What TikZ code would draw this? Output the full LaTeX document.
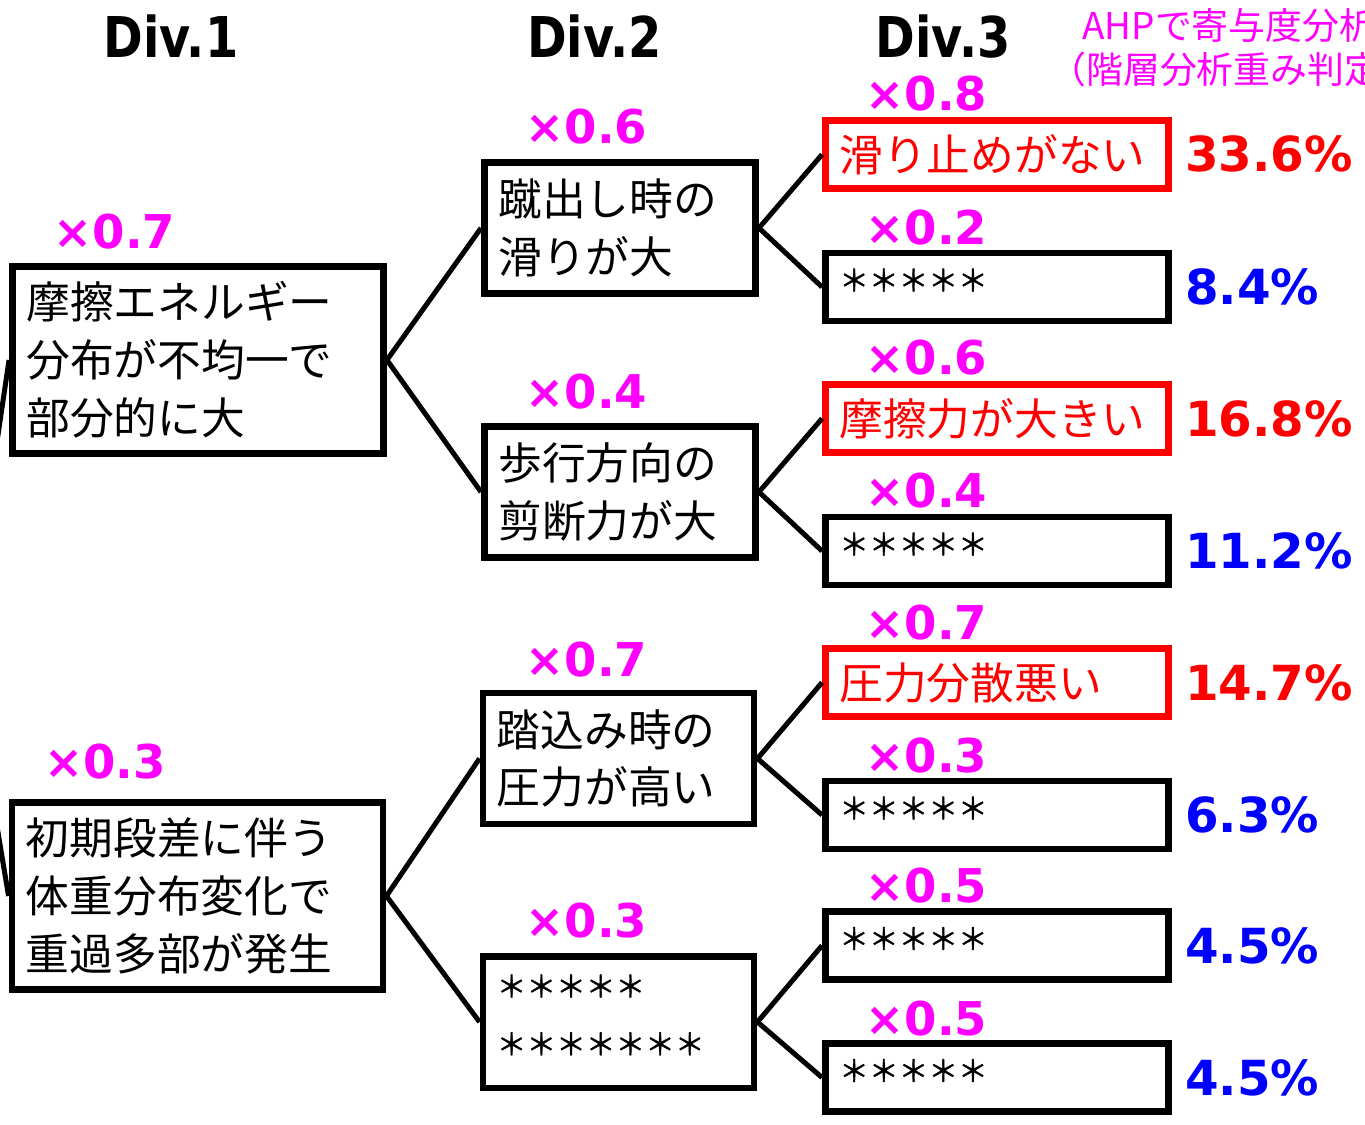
\documentclass[tikz,border=0pt]{standalone}
\usepackage{fontspec}
\setmainfont{Noto Sans CJK JP}
\newfontfamily\numfont{DejaVu Sans}
\newfontfamily\hdrfont{DejaVu Sans}[FakeStretch=0.85]
\newfontfamily\astfont{Noto Sans CJK JP}[FakeBold=1.2]
\definecolor{mag}{RGB}{255,0,255}
\definecolor{pred}{RGB}{255,0,0}
\definecolor{pblue}{RGB}{0,0,255}
\newcommand\astk{\makebox[0.594cm]{\raisebox{0.24cm}{\astfont\fontsize{17pt}{17pt}\selectfont ＊}}}
\newcommand\astline[1]{\vphantom{あ}\foreach \i in {1,...,#1}{\astk}}
\tikzset{
  box/.style={draw=black, line width=0.13cm, fill=white, inner xsep=0.28cm, inner ysep=0pt,
    align=left, font=\fontsize{24.9pt}{32.9pt}\selectfont},
  redbox/.style={box, draw=pred, text=pred},
  dva/.style={text width=6.87cm, minimum height=3.75cm},
  dvb/.style={text width=4.87cm, minimum height=2.63cm},
  dvc/.style={text width=6.31cm, minimum height=1.36cm},
  conn/.style={draw=black, line width=0.1cm},
  lab/.style={text=mag, inner sep=0pt, anchor=base, font=\numfont\bfseries\fontsize{26.5pt}{27pt}\selectfont},
  hdr/.style={text=black, inner sep=0pt, anchor=base, font=\hdrfont\bfseries\fontsize{32pt}{33pt}\selectfont},
  pct/.style={inner sep=0pt, anchor=base west, font=\numfont\bfseries\fontsize{27.5pt}{28pt}\selectfont},
  ahp/.style={text=mag, inner sep=0pt, anchor=base west, font=\fontsize{21pt}{22pt}\selectfont}
}
\begin{document}
\begin{tikzpicture}[x=0.02cm, y=-0.02cm]
\begin{scope}
\clip (0,0) rectangle (1365,1125);
\fill[white] (0,0) rectangle (1365,1125);

% headers
\node[hdr] (h1) at (171,58) {Div.1};
\node[hdr] (h2) at (594.5,58) {Div.2};
\node[hdr] (h3) at (943,58) {Div.3};
\node[ahp] (ahp1) at (1082,40) {AHPで寄与度分析};
\node[ahp] (ahp2) at (1049,84) {（階層分析重み判定};

% Div.1 boxes
\node[box, dva] (d1a) at (198,360) {摩擦エネルギー\\分布が不均一で\\部分的に大};
\node[box, dva] (d1b) at (197.5,896) {初期段差に伴う\\体重分布変化で\\重過多部が発生};

% Div.2 boxes
\node[box, dvb] (d2a) at (620,228) {蹴出し時の\\滑りが大};
\node[box, dvb] (d2b) at (620,492) {歩行方向の\\剪断力が大};
\node[box, dvb] (d2c) at (618.5,758.5) {踏込み時の\\圧力が高い};
\node[box, dvb] (d2d) at (618.5,1022) {\astline{5}\\\astline{7}};

% Div.3 boxes
\node[redbox, dvc] (d3a) at (997,154.5) {滑り止めがない};
\node[box, dvc] (d3b) at (997,287) {\astline{5}};
\node[redbox, dvc] (d3c) at (997,418.5) {摩擦力が大きい};
\node[box, dvc] (d3d) at (997,551) {\astline{5}};
\node[redbox, dvc] (d3e) at (997,682.5) {圧力分散悪い};
\node[box, dvc] (d3f) at (997,815) {\astline{5}};
\node[box, dvc] (d3g) at (997,945.5) {\astline{5}};
\node[box, dvc] (d3h) at (997,1077.5) {\astline{5}};

% connectors
\coordinate (root) at (-33,645);
\draw[conn] (root) -- (d1a.west);
\draw[conn] (root) -- (d1b.west);
\draw[conn] (d1a.east) -- (d2a.west);
\draw[conn] (d1a.east) -- (d2b.west);
\draw[conn] (d1b.east) -- (d2c.west);
\draw[conn] (d1b.east) -- (d2d.west);
\draw[conn] (d2a.east) -- (d3a.west);
\draw[conn] (d2a.east) -- (d3b.west);
\draw[conn] (d2b.east) -- (d3c.west);
\draw[conn] (d2b.east) -- (d3d.west);
\draw[conn] (d2c.east) -- (d3e.west);
\draw[conn] (d2c.east) -- (d3f.west);
\draw[conn] (d2d.east) -- (d3g.west);
\draw[conn] (d2d.east) -- (d3h.west);

% weight labels
\node[lab] (w1a) at (114.5,248) {×0.7};
\node[lab] (w1b) at (105,778) {×0.3};
\node[lab] (w2a) at (586.5,144) {×0.6};
\node[lab] (w2b) at (586.5,408) {×0.4};
\node[lab] (w2c) at (586.5,676) {×0.7};
\node[lab] (w2d) at (586.5,937) {×0.3};
\node[lab] (w3a) at (926.5,111) {×0.8};
\node[lab] (w3b) at (926.5,244) {×0.2};
\node[lab] (w3c) at (926.5,374) {×0.6};
\node[lab] (w3d) at (926.5,507) {×0.4};
\node[lab] (w3e) at (926.5,639) {×0.7};
\node[lab] (w3f) at (926.5,772) {×0.3};
\node[lab] (w3g) at (926.5,902) {×0.5};
\node[lab] (w3h) at (926.5,1035) {×0.5};

% percentages
\node[pct, text=pred] (p1) at (1185,172) {33.6\%};
\node[pct, text=pblue] (p2) at (1185,304.5) {8.4\%};
\node[pct, text=pred] (p3) at (1185,436) {16.8\%};
\node[pct, text=pblue] (p4) at (1185,568.5) {11.2\%};
\node[pct, text=pred] (p5) at (1185,700) {14.7\%};
\node[pct, text=pblue] (p6) at (1185,832.5) {6.3\%};
\node[pct, text=pblue] (p7) at (1185,963) {4.5\%};
\node[pct, text=pblue] (p8) at (1185,1095) {4.5\%};
\end{scope}
\pgfresetboundingbox
\useasboundingbox (0,0) rectangle (1365,1125);
\end{tikzpicture}
\end{document}
